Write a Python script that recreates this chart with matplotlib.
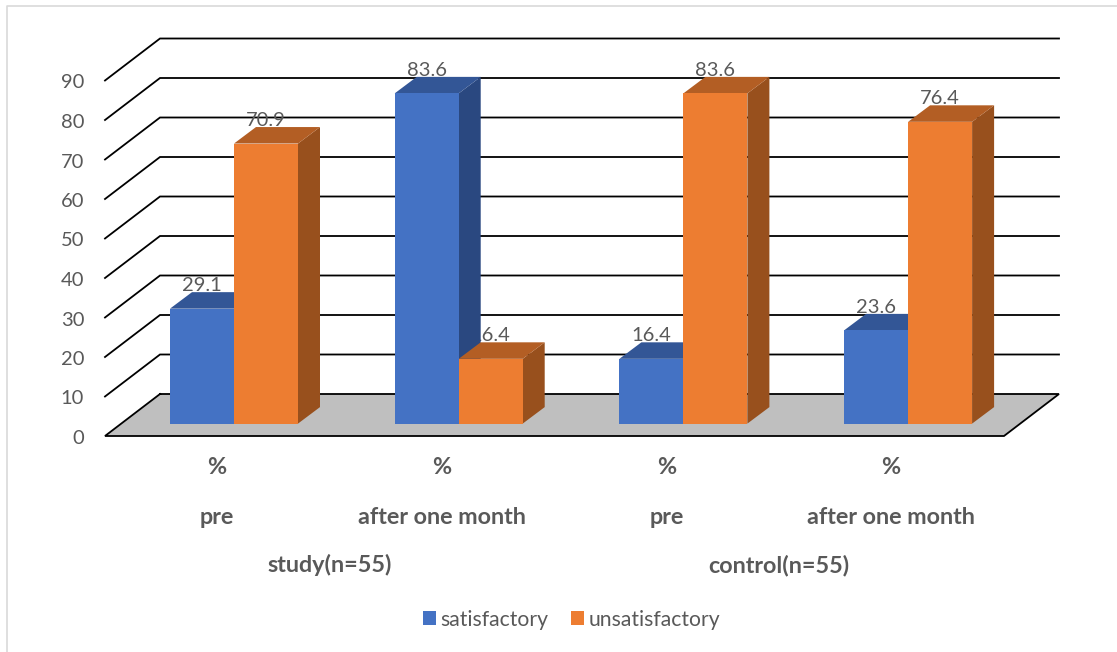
import matplotlib
matplotlib.use("Agg")
import matplotlib.pyplot as plt
from matplotlib.patches import Patch, Polygon
from matplotlib.lines import Line2D
from matplotlib.transforms import ScaledTranslation

# Survey results, percentage of each group per assessment
groups = ["study(n=55)", "control(n=55)"]
periods = ["pre", "after one month", "pre", "after one month"]
units = ["%", "%", "%", "%"]
satisfactory = [29.1, 83.6, 16.4, 23.6]
unsatisfactory = [70.9, 16.4, 83.6, 76.4]
y_ticks = [0, 10, 20, 30, 40, 50, 60, 70, 80, 90]

W, H = 1117, 652
PX_PER_UNIT = 3.95
PX_PER_CAT = 224.7
TEXT = "#595959"
plt.rcParams["font.family"] = ["Lato", "DejaVu Sans"]

fig = plt.figure(figsize=(W / 100, H / 100), dpi=100, facecolor="white")

# Axes span the front-left corner of the floor up to the top of the back wall
left, right, bottom, top = 105, 1060, 436, 38.5
ax = fig.add_axes([left / W, 1 - bottom / H, (right - left) / W, (bottom - top) / H])
ax.set_xlim((left - 234) / PX_PER_CAT, (right - 234) / PX_PER_CAT)
ax.set_ylim(0, (bottom - top) / PX_PER_UNIT)
ax.patch.set_alpha(0)
for s in ax.spines.values():
    s.set_visible(False)
ax.set_xticks([])
ax.set_yticks(y_ticks)
ax.tick_params(axis="y", length=0, pad=15, labelsize=14.5, labelcolor=TEXT)
nudge = ScaledTranslation(0, -1 / 100, fig.dpi_scale_trans)
for lab in ax.get_yticklabels():
    lab.set_transform(lab.get_transform() + nudge)

# Depth of the chart box and of the bars, converted to data units
wall_dx = 55 / PX_PER_CAT
wall_dy = 42 / PX_PER_UNIT
bar_dx = 22 / PX_PER_CAT
bar_dy = 16.5 / PX_PER_UNIT
bar_w = 64 / PX_PER_CAT
base_y = (436 - 423.6) / PX_PER_UNIT

x0 = ax.get_xlim()[0]
floor_right = x0 + (1004 - 105) / PX_PER_CAT

# Floor
ax.add_patch(Polygon([(x0, 0), (floor_right, 0), (floor_right + wall_dx, wall_dy), (x0 + wall_dx, wall_dy)],
                     closed=True, facecolor="#BFBFBF", edgecolor="none", zorder=1, clip_on=False))
ax.plot([x0 + wall_dx, floor_right + wall_dx, floor_right, x0, x0 + wall_dx],
        [wall_dy, wall_dy, 0, 0, wall_dy], color="black", lw=1.3, zorder=2, clip_on=False,
        solid_joinstyle="miter")

# Gridlines run across the back wall and down the side wall
for v in y_ticks[1:]:
    ax.plot([x0, x0 + wall_dx, floor_right + wall_dx], [v, v + wall_dy, v + wall_dy],
            color="black", lw=1.3, zorder=2, clip_on=False, solid_joinstyle="miter")


def bar3d(x, value, front, side, cap):
    """Draw one box whose front face starts at x and reaches value above the floor plane."""
    y0, y1 = base_y, base_y + value
    ax.add_patch(Polygon([(x + bar_w, y0), (x + bar_w + bar_dx, y0 + bar_dy),
                          (x + bar_w + bar_dx, y1 + bar_dy), (x + bar_w, y1)],
                         facecolor=side, edgecolor="none", zorder=4))
    ax.add_patch(Polygon([(x, y1), (x + bar_dx, y1 + bar_dy),
                          (x + bar_w + bar_dx, y1 + bar_dy), (x + bar_w, y1)],
                         facecolor=cap, edgecolor="none", zorder=4))
    ax.add_patch(Polygon([(x, y0), (x + bar_w, y0), (x + bar_w, y1), (x, y1)],
                         facecolor=front, edgecolor="none", zorder=5))
    # Value label sits behind the bars, resting on the rear edge of the cap
    ax.text(x + bar_w / 2, y1 + bar_dy - 0.45, f"{value:g}", ha="center", va="bottom",
            fontsize=14.5, color=TEXT, zorder=3)


BLUE = ("#4472C4", "#2A4880", "#335696")
ORANGE = ("#ED7D31", "#98501D", "#B35E24")
for i, (a, b) in enumerate(zip(satisfactory, unsatisfactory)):
    bar3d(i - bar_w, a, *BLUE)
    bar3d(i, b, *ORANGE)

# Multi-level category labels below the floor
trans = ax.get_xaxis_transform()
label_shift = -17 / PX_PER_CAT


def row(py):
    return -(py - bottom) / (bottom - top)


def axis_label(x, py, s):
    ax.text(x + label_shift, row(py), s, transform=trans, ha="center", va="center",
            fontsize=16.8, fontweight="bold", color=TEXT, clip_on=False)


for i, (u, p) in enumerate(zip(units, periods)):
    axis_label(i, 468, u)
    axis_label(i, 517.5, p)
for j, g in enumerate(groups):
    axis_label(2 * j + 0.5, 565, g)

handles = [Patch(facecolor=BLUE[0], label="satisfactory"),
           Patch(facecolor=ORANGE[0], label="unsatisfactory")]
fig.legend(handles=handles, loc="center", bbox_to_anchor=(571.5 / W, 1 - 619.5 / H), ncol=2,
           frameon=False, fontsize=15.2, labelcolor=TEXT, handlelength=0.62, handleheight=0.62,
           handletextpad=0.2, columnspacing=1.1, borderpad=0, borderaxespad=0)

# Thin outline along the top and left of the chart area
fig.add_artist(Line2D([7 / W, 7 / W, 1], [0, 1 - 5.5 / H, 1 - 5.5 / H], color="#D9D9D9", lw=1.2,
                      transform=fig.transFigure))

fig.savefig("out.png", dpi=100)
